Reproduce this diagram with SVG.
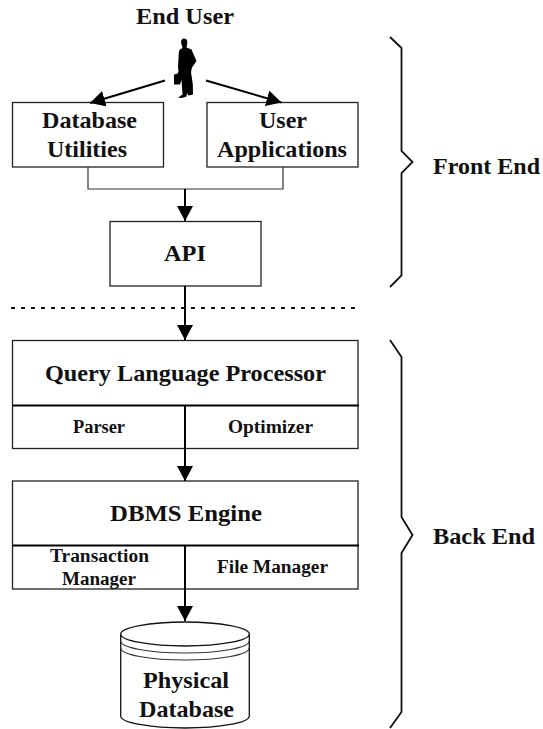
<svg xmlns="http://www.w3.org/2000/svg" width="543" height="729" viewBox="0 0 543 729">
<style>
text{font-family:"Liberation Serif","Times New Roman",serif;font-weight:700;fill:#111;text-anchor:start}
.l{font-size:23px}.s{font-size:18px}
.box{fill:#fff;stroke:#222;stroke-width:1.3}
.thin{fill:none;stroke:#333;stroke-width:1.2}
.wire{fill:none;stroke:#000;stroke-width:2}
.brace{fill:none;stroke:#111;stroke-width:1.8}
.cyl{fill:#fff;stroke:#111;stroke-width:1.3}
</style>
<defs><marker id="arrow" markerUnits="userSpaceOnUse" markerWidth="16" markerHeight="16" refX="15" refY="8" orient="auto"><path d="M0 0L15 8L0 16Z" fill="#000"/></marker></defs>
<g id="end-user">
<text class="l" x="136" y="24" textLength="98" lengthAdjust="spacingAndGlyphs">End User</text>
<path id="person" fill="#000" d="M184 38.500C181.500 38.500 180.800 41 181.300 43.500C181.500 45 182 46 182.500 46.800L182 48.500C180 49.300 179 50 178.800 52.500L178 67L178.500 71L177.800 73.500L174 74.500L174 84.500L180 84.500L181.500 80L182.500 94.500L178 97.500L182 98L186.500 96.500L187 93L188.500 95.500L193 94.500L192.800 84L191 72L192 67.500L196.500 61L193 53L191.500 49.500L186.500 47.500L187 45C187.800 42 187.500 38.500 184 38.500Z"/>
</g>
<g id="database-utilities"><rect class="box" x="12.500" y="102.500" width="151" height="64.500"/><text class="l" x="42" y="128" textLength="95" lengthAdjust="spacingAndGlyphs">Database</text><text class="l" x="47" y="157" textLength="80" lengthAdjust="spacingAndGlyphs">Utilities</text></g>
<g id="user-applications"><rect class="box" x="207" y="102.500" width="151" height="64.500"/><text class="l" x="259" y="128" textLength="48" lengthAdjust="spacingAndGlyphs">User</text><text class="l" x="217" y="157" textLength="130" lengthAdjust="spacingAndGlyphs">Applications</text></g>
<g id="api"><rect class="box" x="110" y="221.500" width="151" height="64.500"/><text class="l" x="164" y="261" textLength="42" lengthAdjust="spacingAndGlyphs">API</text></g>
<g id="query-language-processor"><rect class="box" x="12.500" y="340.500" width="345.500" height="108"/><path class="wire" d="M12 405.500H359"/><text class="l" x="45" y="381" textLength="281" lengthAdjust="spacingAndGlyphs">Query Language Processor</text><text class="s" x="73" y="433" textLength="52" lengthAdjust="spacingAndGlyphs">Parser</text><text class="s" x="228" y="433" textLength="85" lengthAdjust="spacingAndGlyphs">Optimizer</text></g>
<g id="dbms-engine"><rect class="box" x="12.500" y="481" width="345.500" height="108"/><path class="wire" d="M12 545.500H359"/><text class="l" x="110" y="521" textLength="152" lengthAdjust="spacingAndGlyphs">DBMS Engine</text><text class="s" x="50" y="562" textLength="99" lengthAdjust="spacingAndGlyphs">Transaction</text><text class="s" x="62" y="585" textLength="74" lengthAdjust="spacingAndGlyphs">Manager</text><text class="s" x="217" y="573" textLength="111" lengthAdjust="spacingAndGlyphs">File Manager</text></g>
<g id="physical-database">
<path class="cyl" d="M120.700 634V716A64.300 12 0 0 0 249.300 716V634"/>
<path class="cyl" d="M120.700 634A64.300 12 0 0 1 249.300 634A64.300 12 0 0 1 120.700 634Z"/>
<path class="thin" d="M120.700 641A64.300 12 0 0 0 249.300 641M120.700 648A64.300 12 0 0 0 249.300 648"/>
<text class="l" x="143" y="688" textLength="86" lengthAdjust="spacingAndGlyphs">Physical</text><text class="l" x="139" y="717" textLength="95" lengthAdjust="spacingAndGlyphs">Database</text>
</g>
<g id="connectors">
<path class="wire" d="M165 80.500L90 103" marker-end="url(#arrow)"/>
<path class="wire" d="M206 80.500L281.500 102.500" marker-end="url(#arrow)"/>
<path class="thin" d="M88 167V189H283V167"/>
<path class="wire" d="M185 189V221" marker-end="url(#arrow)"/>
<path class="wire" d="M185 286V340" marker-end="url(#arrow)"/>
<path class="wire" d="M185 405V481" marker-end="url(#arrow)"/>
<path class="wire" d="M185 546V621" marker-end="url(#arrow)"/>
<path d="M11 308H359" fill="none" stroke="#111" stroke-width="2" stroke-dasharray="4 6"/>
</g>
<g id="front-end"><path class="brace" d="M390 37L401.500 48V151L412.500 162L401.500 173V275.500L390 287"/><text class="l" x="433" y="174" textLength="107" lengthAdjust="spacingAndGlyphs">Front End</text></g>
<g id="back-end"><path class="brace" d="M390 340L401.500 357V517L412.500 535L401.500 553V712L390 728"/><text class="l" x="433" y="544" textLength="102" lengthAdjust="spacingAndGlyphs">Back End</text></g>
</svg>
